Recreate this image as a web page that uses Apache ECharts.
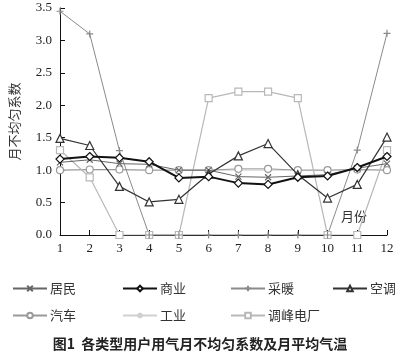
<!DOCTYPE html>
<html><head><meta charset="utf-8">
<script src="https://cdn.jsdelivr.net/npm/echarts@6/dist/echarts.min.js"></script>
<style>html,body{margin:0;padding:0;background:#fff}#c{width:400px;height:356px}</style>
</head><body><div id="c"></div>
<script>
var months = ['1','2','3','4','5','6','7','8','9','10','11','12'];
var yTicks = [0, 0.5, 1.0, 1.5, 2.0, 2.5, 3.0, 3.5];
var jumin    = [1.12, 1.16, 1.10, 1.09, 1.00, 1.00, 0.90, 0.89, 0.91, 0.93, 1.03, 1.10];
var shangye  = [1.17, 1.21, 1.19, 1.13, 0.88, 0.90, 0.80, 0.78, 0.89, 0.91, 1.04, 1.21];
var cainuan  = [3.45, 3.10, 1.30, 0, 0, 0, 0, 0, 0, 0, 1.31, 3.11];
var kongtiao = [1.49, 1.38, 0.75, 0.51, 0.55, 0.94, 1.22, 1.41, 0.93, 0.57, 0.78, 1.51];
var qiche    = [1.00, 1.01, 1.01, 1.00, 1.00, 1.00, 1.02, 1.02, 1.00, 1.00, 1.01, 1.00];
var gongye   = [1.00, 1.00, 1.00, 1.00, 1.00, 1.00, 1.00, 1.00, 1.00, 1.00, 1.00, 1.00];
var tiaofeng = [1.31, 0.89, 0, 0, 0, 2.11, 2.21, 2.21, 2.11, 0, 0, 1.31];
var names = ['居民','商业','采暖','空调','汽车','工业','调峰电厂'];

var serif = '"Liberation Serif","DejaVu Serif",serif';
var cjk = '"Noto Sans CJK SC",sans-serif';

function mk(name, data, color, width, symbol, size, fill, z) {
  return {
    name: name, type: 'line', data: data, z: z,
    symbol: symbol, symbolSize: size, showAllSymbol: true,
    lineStyle: {color: color, width: width},
    itemStyle: {color: fill, borderColor: color, borderWidth: 1.2},
    emphasis: {disabled: true}
  };
}
var X = 'path://M0,0L10,10M10,0L0,10';
var PLUS = 'path://M5,0L5,10M0,5L10,5';
var STAR = 'path://M5,0L5,10M0,5L10,5M1.5,1.5L8.5,8.5M8.5,1.5L1.5,8.5';

var series = [
  mk('工业', gongye, '#d0d0d0', 1, STAR, 7, 'none', 2),
  mk('汽车', qiche, '#999999', 1, 'circle', 7, '#fff', 3),
  mk('调峰电厂', tiaofeng, '#b8b8b8', 1.2, 'rect', 7, '#fff', 3),
  mk('采暖', cainuan, '#8a8a8a', 1, PLUS, 7, 'none', 3),
  mk('居民', jumin, '#666666', 1, X, 6, 'none', 4),
  mk('空调', kongtiao, '#333333', 1.2, 'triangle', 8, '#fff', 5),
  mk('商业', shangye, '#111111', 2, 'diamond', 8, '#fff', 6)
];

var legPos = {
  '居民': [7, 277], '商业': [117, 277], '采暖': [225, 277], '空调': [327, 277],
  '汽车': [7, 304], '工业': [117, 304], '调峰电厂': [225, 304]
};
var legends = names.map(function (n) {
  return {
    data: [n], left: legPos[n][0], top: legPos[n][1], itemWidth: 34, itemHeight: 7,
    itemGap: 4, selectedMode: false,
    textStyle: {fontFamily: cjk, fontSize: 13, color: '#333', padding: [0, 0, 0, -2]}
  };
});

var chart = echarts.init(document.getElementById('c'), null, {renderer: 'canvas'});
chart.setOption({
  animation: false,
  backgroundColor: '#fff',
  title: {
    text: '图1  各类型用户用气月不均匀系数及月平均气温', left: 'center', top: 332,
    textStyle: {fontFamily: cjk, fontSize: 14, fontWeight: 'bold', color: '#222'}
  },
  legend: legends,
  grid: {left: 56, right: 13, top: 8, bottom: 121},
  xAxis: {
    type: 'category', data: months, boundaryGap: false,
    axisLine: {lineStyle: {color: '#111', width: 1}},
    axisTick: {inside: true, length: 5, lineStyle: {color: '#111'}},
    axisLabel: {fontFamily: serif, fontSize: 13, color: '#222', margin: 7},
    splitLine: {show: false}
  },
  yAxis: {
    type: 'value', min: 0, max: 3.5, interval: 0.5,
    axisLine: {show: true, lineStyle: {color: '#111', width: 1}},
    axisTick: {show: true, inside: true, length: 5, lineStyle: {color: '#111'}},
    axisLabel: {fontFamily: serif, fontSize: 13, color: '#222', margin: 8,
      formatter: function (v) { return v.toFixed(1); }},
    splitLine: {show: false},
    name: '月不均匀系数', nameLocation: 'middle', nameRotate: 90, nameGap: 39,
    nameTextStyle: {fontFamily: cjk, fontSize: 13, color: '#333'}
  },
  graphic: [{
    type: 'text', left: 341, top: 210,
    style: {text: '月份', font: '13px "Noto Sans CJK SC",sans-serif', fill: '#333'}
  }],
  series: series
});
</script>
</body></html>
